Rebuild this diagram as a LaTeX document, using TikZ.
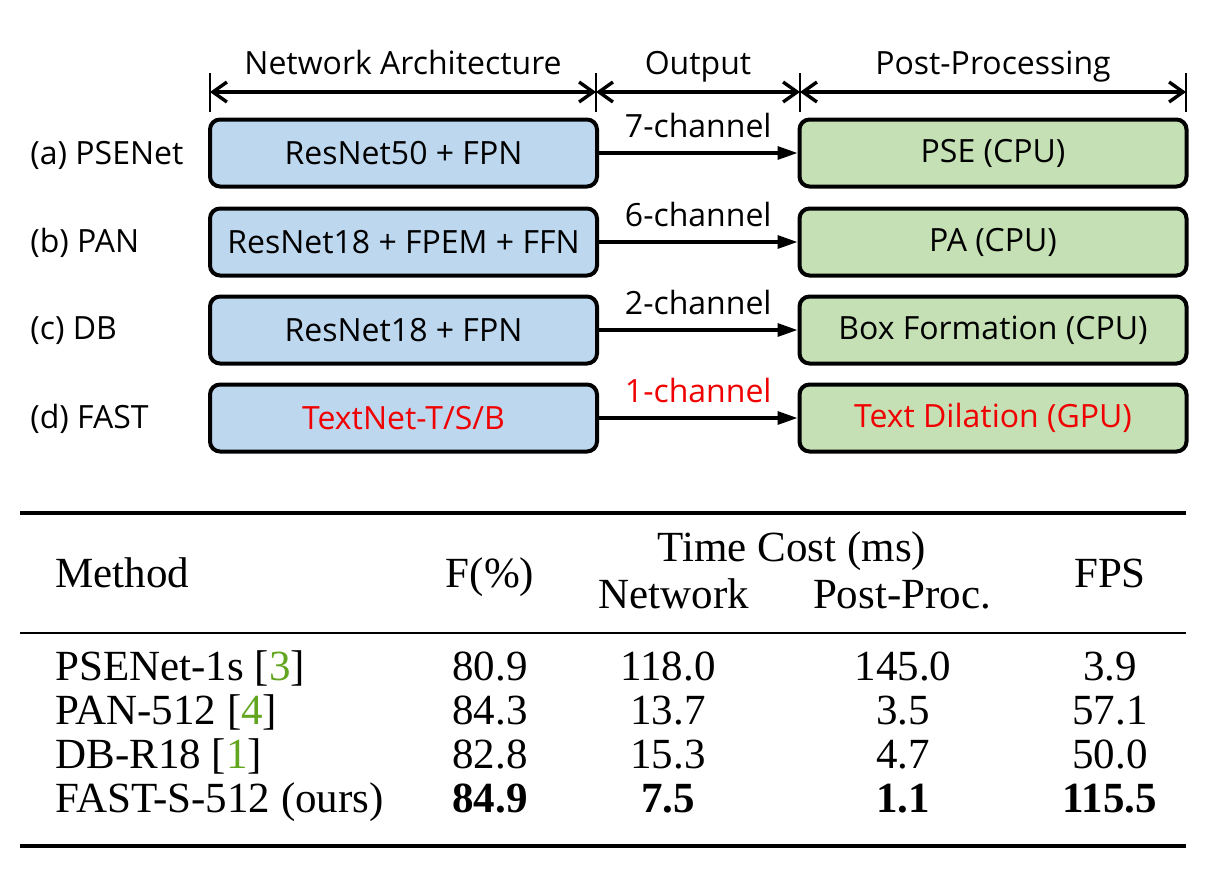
\documentclass[tikz,border=0pt]{standalone}
\usepackage{fontspec}
\setmainfont{Liberation Serif}
\newfontfamily\diagfont{Open Sans}
\usetikzlibrary{arrows.meta,positioning}

\definecolor{archblue}{RGB}{189,215,238}
\definecolor{postgreen}{RGB}{197,224,180}
\definecolor{citegreen}{RGB}{98,166,32}
\definecolor{hlred}{RGB}{240,0,0}

\newcommand{\cit}[1]{[\textcolor{citegreen}{#1}]}

\tikzset{
    archbox/.style={draw,line width=2pt,rounded corners=5pt,fill=archblue,
        minimum width=193.5pt,minimum height=33.5pt,inner sep=0pt,
        font=\diagfont\fontsize{16}{19}\selectfont},
    postbox/.style={archbox,fill=postgreen},
    rowlabel/.style={anchor=west,inner sep=0pt,font=\diagfont\fontsize{16}{19}\selectfont},
    chanarrow/.style={line width=1.6pt,-{Triangle[length=10pt,width=6.5pt]}},
    spanarrow/.style={line width=1.7pt,{Straight Barb[length=7pt,width=10pt]}-{Straight Barb[length=7pt,width=10pt]}},
    tick/.style={line width=1.3pt},
    headtext/.style={font=\diagfont\fontsize{16}{19}\selectfont,text height=12pt,text depth=3.5pt},
    cell/.style={anchor=base,inner sep=0pt,font=\fontsize{21.5}{25}\selectfont},
    rule/.style={line width=2pt},
}

\begin{document}
\begin{tikzpicture}[x=0.5pt,y=-0.5pt]
    \useasboundingbox (0,0) rectangle (1224,868);

    % spans above the boxes
    \foreach \xx/\nm in {210/t0,596/t1,800/t2,1186/t3} {
        \coordinate (\nm top) at (\xx,73);
        \coordinate (\nm bot) at (\xx,112);
        \coordinate (\nm) at (\xx,92);
        \draw[tick] (\nm top) -- (\nm bot);
    }
    \draw[spanarrow] (t0) -- (t1) node[midway,above=1pt,headtext] (hdnet) {Network Architecture};
    \draw[spanarrow] (t1) -- (t2) node[midway,above=1pt,headtext] (hdout) {Output};
    \draw[spanarrow] (t2) -- (t3) node[midway,above=1pt,headtext] (hdpost) {Post-Processing};

    % the four pipelines
    \node[archbox] (pse) at (403.5,153) {ResNet50 + FPN};
    \node[archbox] (pan) at (403.5,242) {ResNet18 + FPEM + FFN};
    \node[archbox] (db) at (403.5,330) {ResNet18 + FPN};
    \node[archbox,text=hlred] (fast) at (403.5,418) {TextNet-T/S/B};

    \node[postbox] (psepost) at (993,153) {PSE (CPU)};
    \node[postbox] (panpost) at (993,242) {PA (CPU)};
    \node[postbox] (dbpost) at (993,330) {Box Formation (CPU)};
    \node[postbox,text=hlred] (fastpost) at (993,418) {Text Dilation (GPU)};

    \node[rowlabel] (lbla) at (30,155) {(a) PSENet};
    \node[rowlabel] (lblb) at (30,243) {(b) PAN};
    \node[rowlabel] (lblc) at (30,331) {(c) DB};
    \node[rowlabel] (lbld) at (30,419) {(d) FAST};

    \draw[chanarrow] (pse) -- (psepost) node[midway,above=0pt,headtext] {7-channel};
    \draw[chanarrow] (pan) -- (panpost) node[midway,above=0pt,headtext] {6-channel};
    \draw[chanarrow] (db) -- (dbpost) node[midway,above=0pt,headtext] {2-channel};
    \draw[chanarrow] (fast) -- (fastpost) node[midway,above=0pt,headtext,text=hlred] {1-channel};

    % table
    \draw[rule] (20,513) -- (1186,513);
    \draw[line width=1.2pt] (20,633) -- (1186,633);
    \draw[rule] (20,846) -- (1186,846);

    \node[cell,anchor=base west] (hmethod) at (55,587) {Method};
    \node[cell] (hf) at (490,587) {F(\%)};
    \node[cell] (htime) at (792,561) {Time Cost (ms)};
    \node[cell] (hnet) at (674,608) {Network};
    \node[cell] (hpost) at (902,608) {Post-Proc.};
    \node[cell] (hfps) at (1110,587) {FPS};

    \foreach \yy/\mth/\fv/\nv/\pv/\sv in {
        680/{PSENet-1s \cit{3}}/80.9/118.0/145.0/3.9,
        724/{PAN-512 \cit{4}}/84.3/13.7/3.5/57.1,
        768/{DB-R18 \cit{1}}/82.8/15.3/4.7/50.0} {
        \node[cell,anchor=base west] at (55,\yy) {\mth};
        \node[cell] at (490,\yy) {\fv};
        \node[cell] at (668,\yy) {\nv};
        \node[cell] at (903,\yy) {\pv};
        \node[cell] at (1110,\yy) {\sv};
    }
    \node[cell,anchor=base west] (ours) at (55,812) {FAST-S-512 (ours)};
    \node[cell] (oursf) at (490,812) {\bfseries 84.9};
    \node[cell] (oursn) at (668,812) {\bfseries 7.5};
    \node[cell] (oursp) at (903,812) {\bfseries 1.1};
    \node[cell] (ourss) at (1110,812) {\bfseries 115.5};
\end{tikzpicture}
\end{document}
